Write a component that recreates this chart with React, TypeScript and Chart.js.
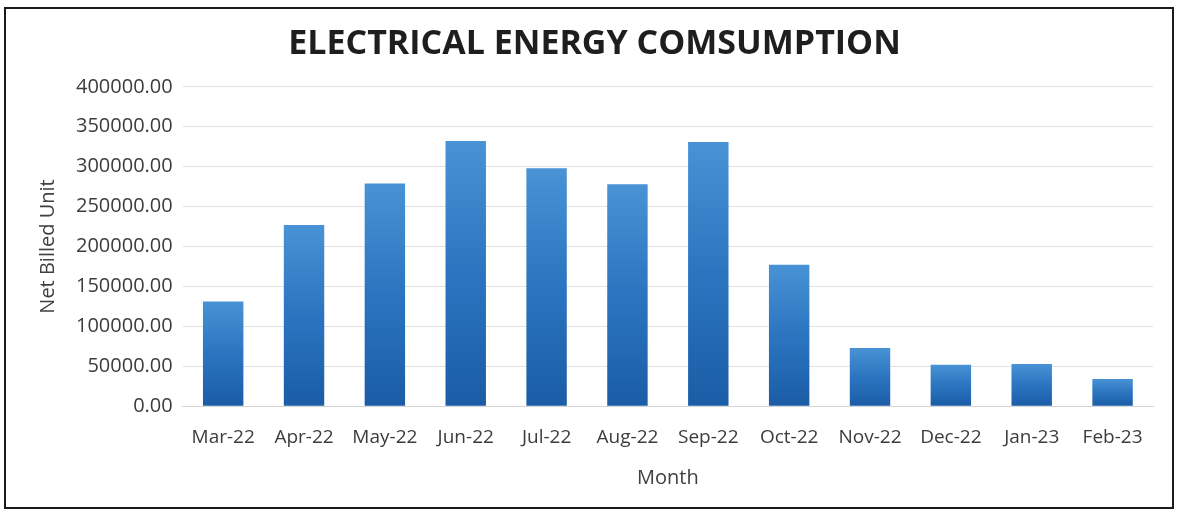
import React, { useEffect, useRef } from "react";
import { Chart, registerables } from "chart.js";

Chart.register(...registerables);

const months = ["Mar-22", "Apr-22", "May-22", "Jun-22", "Jul-22", "Aug-22", "Sep-22", "Oct-22", "Nov-22", "Dec-22", "Jan-23", "Feb-23"];
const netBilledUnits = [131000, 227000, 279000, 332000, 298000, 278000, 331000, 177000, 73000, 52000, 53000, 34000];
const yTicks = [0, 50000, 100000, 150000, 200000, 250000, 300000, 350000, 400000];

const FONT = "'Open Sans', 'Liberation Sans', sans-serif";

export default function App() {
  const ref = useRef<HTMLCanvasElement | null>(null);

  useEffect(() => {
    if (!ref.current) return;
    const chart = new Chart(ref.current, {
      type: "bar",
      data: {
        labels: months,
        datasets: [
          {
            label: "Net Billed Unit",
            data: netBilledUnits,
            backgroundColor: (ctx: any) => {
              const c = ctx.chart;
              const ys = c.scales?.y;
              if (!ys || ctx.raw == null) return "#2a72bd";
              const top = ys.getPixelForValue(ctx.raw);
              const base = ys.getPixelForValue(0);
              if (!isFinite(top) || !isFinite(base) || top === base) return "#2a72bd";
              const g = c.ctx.createLinearGradient(0, top, 0, base);
              g.addColorStop(0, "#4892d5");
              g.addColorStop(0.5, "#2b75c0");
              g.addColorStop(1, "#1b5ca6");
              return g;
            },
            borderWidth: 0,
            categoryPercentage: 1,
            barPercentage: 0.5,
          },
        ],
      },
      options: {
        responsive: false,
        animation: false,
        layout: { padding: { left: 36, right: 26, top: 24, bottom: 21 } },
        plugins: {
          legend: { display: false },
          tooltip: { enabled: false },
          title: {
            display: true,
            text: "ELECTRICAL ENERGY COMSUMPTION",
            color: "#1e1e1e",
            font: { family: FONT, size: 34, weight: "bold" },
            padding: { top: 0, bottom: 22 },
          },
        },
        scales: {
          x: {
            grid: { display: false, drawTicks: false },
            border: { display: true, color: "#d4d4d4" },
            ticks: { color: "#3c3c3c", font: { family: FONT, size: 19 }, padding: 20, maxRotation: 0 },
            title: {
              display: true,
              text: "Month",
              color: "#404040",
              font: { family: FONT, size: 20 },
              padding: { top: -3, bottom: 0 },
            },
          },
          y: {
            min: 0,
            max: 400000,
            afterBuildTicks: (axis: any) => {
              axis.ticks = yTicks.map((v) => ({ value: v }));
            },
            grid: { color: "#e1e1e1", drawTicks: false },
            border: { display: false },
            ticks: {
              color: "#3c3c3c",
              font: { family: FONT, size: 20 },
              padding: 10,
              callback: (v: any) => Number(v).toFixed(2),
            },
            title: {
              display: true,
              text: "Net Billed Unit",
              color: "#404040",
              font: { family: FONT, size: 20 },
              padding: { top: 0, bottom: 6 },
            },
          },
        },
      },
    });
    return () => chart.destroy();
  }, []);

  return (
    <div style={{ position: "fixed", left: 0, top: 0, width: 1179, height: 511, background: "#fff" }}>
      <canvas ref={ref} width={1179} height={511} style={{ position: "absolute", left: 0, top: 0 }} />
      <div
        style={{
          position: "absolute",
          left: 4,
          top: 7,
          width: 1166,
          height: 498,
          border: "2px solid #1a1a1a",
          pointerEvents: "none",
        }}
      />
    </div>
  );
}
